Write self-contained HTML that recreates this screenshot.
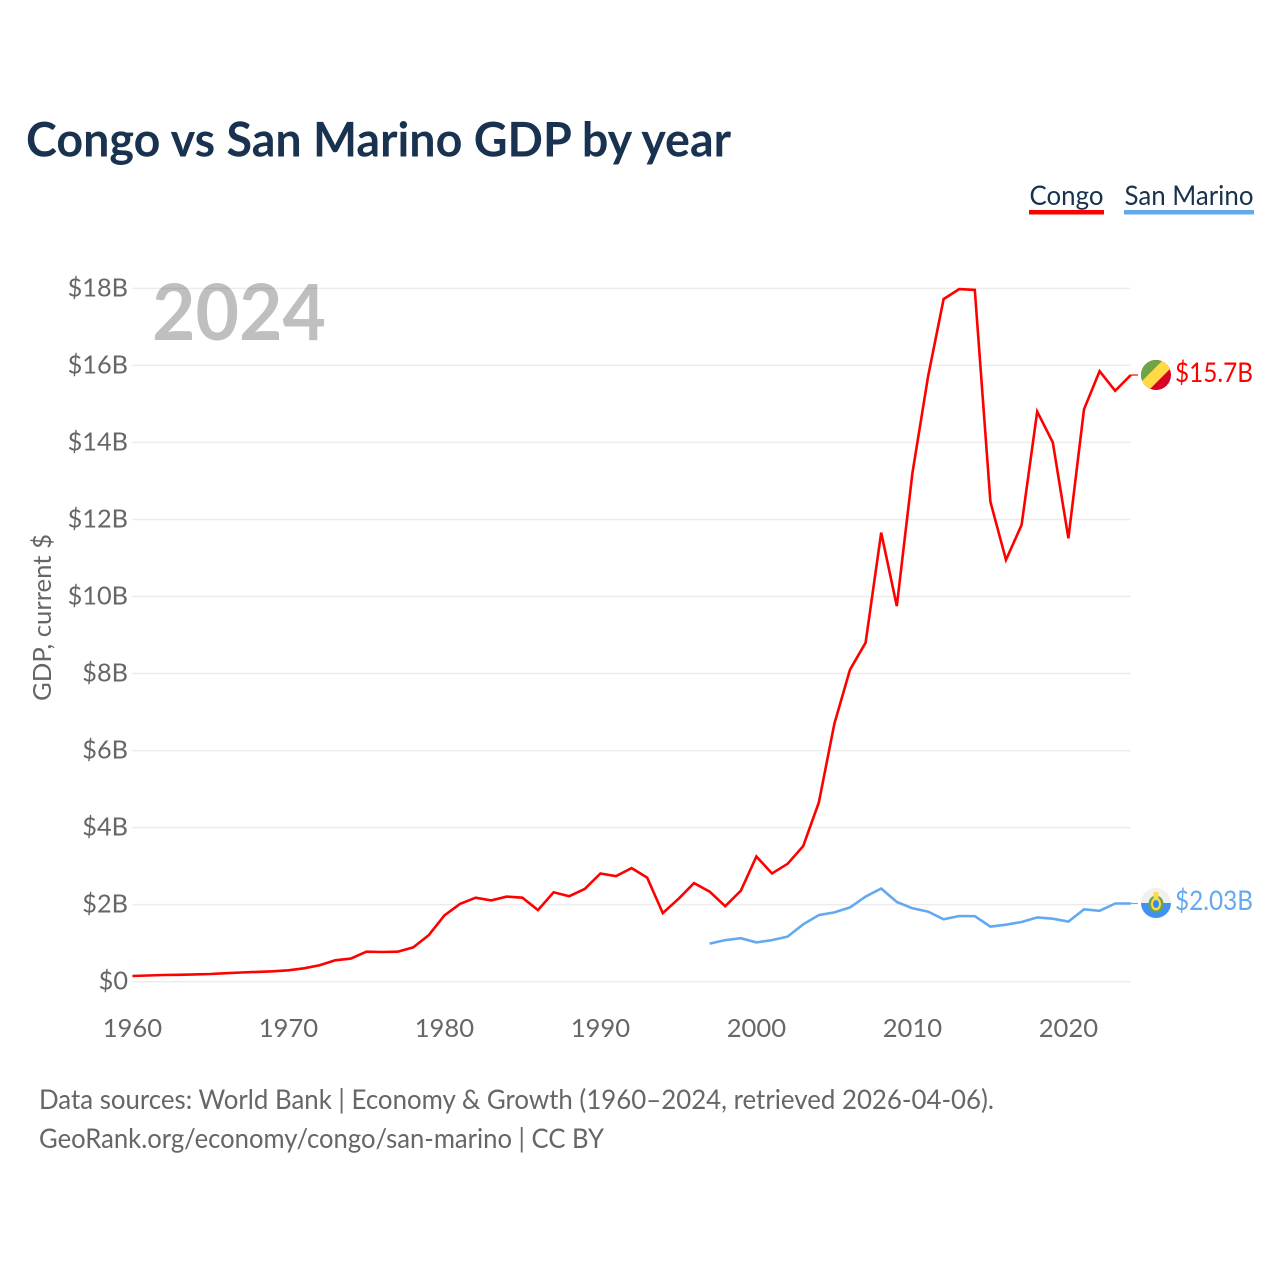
<!DOCTYPE html>
<html lang="en">
<head>
<meta charset="utf-8">
<title>Congo vs San Marino GDP by year</title>
<style>
html,body{margin:0;padding:0;background:#fff;width:1280px;height:1280px;overflow:hidden}
svg{display:block;font-family:"Lato","Carlito","Liberation Sans",sans-serif}
</style>
</head>
<body>
<svg id="chart" xmlns="http://www.w3.org/2000/svg" width="1280" height="1280" viewBox="0 0 1280 1280">
  <rect width="1280" height="1280" fill="#fff"/>
  <text x="26" y="156.5" font-size="47.5" font-weight="700" fill="#18324f" textLength="705" lengthAdjust="spacingAndGlyphs">Congo vs San Marino GDP by year</text>

  <g id="grid"></g>
  <g id="yticks"></g>
  <g id="xticks"></g>

  <text transform="translate(51,701) rotate(-90)" font-size="25.6" fill="#666" textLength="167" lengthAdjust="spacingAndGlyphs">GDP, current $</text>
  <text x="152" y="340" font-size="78" font-weight="700" fill="#000" fill-opacity="0.25" textLength="174" lengthAdjust="spacingAndGlyphs">2024</text>

  <g id="series"></g>

  <g>
    <g>
      <text x="1029.5" y="205" font-size="27.5" fill="#18324f" textLength="74" lengthAdjust="spacingAndGlyphs">Congo</text>
      <rect x="1029" y="210" width="75" height="4.5" fill="#ff0000"/>
    </g>
    <g>
      <text x="1124.5" y="205" font-size="27.5" fill="#18324f" textLength="129" lengthAdjust="spacingAndGlyphs">San Marino</text>
      <rect x="1124" y="210" width="130" height="4.5" fill="#63a9ef"/>
    </g>
  </g>

  <defs>
    <clipPath id="flag-clip-cg"><circle cx="1156" cy="375" r="15"/></clipPath>
    <clipPath id="flag-clip-sm"><circle cx="1156" cy="903" r="15"/></clipPath>
  </defs>

  <g clip-path="url(#flag-clip-cg)">
    <rect x="1141" y="360" width="30" height="30" fill="#d80027"/>
    <polygon points="1141,360 1171,360 1141,390" fill="#6da544"/>
    <polygon points="1163,360 1171,365 1171,368 1149,390 1141,390 1141,382" fill="#ffda44"/>
  </g>
  <text x="1175" y="382" font-size="27" fill="#ff0000" textLength="78" lengthAdjust="spacingAndGlyphs">$15.7B</text>

  <g clip-path="url(#flag-clip-sm)">
    <rect x="1141" y="888" width="30" height="15" fill="#f0f0f0"/>
    <rect x="1141" y="903" width="30" height="15" fill="#3f92f0"/>
    <ellipse cx="1156" cy="904" rx="7.5" ry="8.5" fill="#6da544"/>
    <ellipse cx="1156" cy="904" rx="5" ry="6.5" fill="#ffda44"/>
    <ellipse cx="1156" cy="904" rx="3" ry="4" fill="#338af3"/>
    <rect x="1153.5" y="892" width="5" height="6" fill="#ffda44"/>
  </g>
  <text x="1175" y="910" font-size="27" fill="#63a9ef" textLength="78" lengthAdjust="spacingAndGlyphs">$2.03B</text>

  <text x="39" y="1109" font-size="27" fill="#666" textLength="955" lengthAdjust="spacingAndGlyphs">Data sources: World Bank | Economy &amp; Growth (1960–2024, retrieved 2026-04-06).</text>
  <text x="39" y="1148" font-size="27" fill="#666" textLength="565" lengthAdjust="spacingAndGlyphs">GeoRank.org/economy/congo/san-marino | CC BY</text>
</svg>
<script>
const congoStartYear = 1960;
const congoValues = [0.148,0.16,0.175,0.18,0.19,0.2,0.22,0.24,0.255,0.27,0.295,0.347,0.425,0.555,0.6,0.78,0.77,0.78,0.89,1.21,1.72,2.02,2.18,2.11,2.21,2.18,1.86,2.32,2.22,2.41,2.81,2.74,2.95,2.70,1.78,2.15,2.56,2.34,1.96,2.36,3.25,2.81,3.06,3.52,4.65,6.7,8.1,8.8,11.66,9.75,13.2,15.7,17.72,17.98,17.96,12.46,10.95,11.86,14.8,14.0,11.51,14.86,15.85,15.34,15.75];
const sanMarinoStartYear = 1997;
const sanMarinoValues = [0.99,1.08,1.13,1.02,1.08,1.17,1.49,1.73,1.8,1.93,2.21,2.42,2.07,1.905,1.82,1.62,1.705,1.70,1.43,1.48,1.55,1.67,1.635,1.56,1.88,1.84,2.03,2.03];
const yTickValues = [0,2,4,6,8,10,12,14,16,18];
const yTickLabels = ['$0','$2B','$4B','$6B','$8B','$10B','$12B','$14B','$16B','$18B'];
const xTickYears = [1960,1970,1980,1990,2000,2010,2020];

const SVG_NS = 'http://www.w3.org/2000/svg';
const xScale = function (year) { return 132.4 + (year - 1960) * 15.6; };
const yScale = function (v) { return 981.7 - v * 38.52; };
const leaderEndX = 1138;

function make(tag, attrs, parent) {
  const el = document.createElementNS(SVG_NS, tag);
  Object.keys(attrs).forEach(function (k) { el.setAttribute(k, attrs[k]); });
  parent.appendChild(el);
  return el;
}

const gridGroup = document.getElementById('grid');
const yGroup = document.getElementById('yticks');
const xGroup = document.getElementById('xticks');
const seriesGroup = document.getElementById('series');

yTickValues.forEach(function (v, i) {
  const line = make('line', {x1: xScale(1960), x2: xScale(2024), y1: yScale(v), y2: yScale(v), stroke: '#ececec', 'stroke-width': 1.5}, gridGroup);
  
  
  const label = make('text', {x: 128, y: yScale(v) + 8, 'text-anchor': 'end', 'font-size': 25.3, fill: '#666'}, yGroup);
  
  
  label.textContent = yTickLabels[i];
});

xTickYears.forEach(function (year) {
  const label = make('text', {x: xScale(year), y: 1037, 'text-anchor': 'middle', 'font-size': 25.6, fill: '#666'}, xGroup);
  
  
  label.textContent = String(year);
});

function drawSeries(values, startYear, color, lineName, leaderName) {
  const pts = values.map(function (v, i) {
    return xScale(startYear + i).toFixed(1) + ',' + yScale(v).toFixed(1);
  }).join(' ');
  const last = values[values.length - 1];
  const lastX = xScale(startYear + values.length - 1);
  const leader = make('line', {x1: lastX, x2: leaderEndX, y1: yScale(last), y2: yScale(last), stroke: color, 'stroke-width': 1.2}, seriesGroup);
  
  
  const line = make('polyline', {points: pts, fill: 'none', stroke: color, 'stroke-width': 2.6, 'stroke-linejoin': 'miter'}, seriesGroup);
  
  
}

drawSeries(sanMarinoValues, sanMarinoStartYear, '#63a9ef', 'san-marino-line', 'san-marino-leader-line');
drawSeries(congoValues, congoStartYear, '#ff0000', 'congo-line', 'congo-leader-line');
</script>
</body>
</html>
